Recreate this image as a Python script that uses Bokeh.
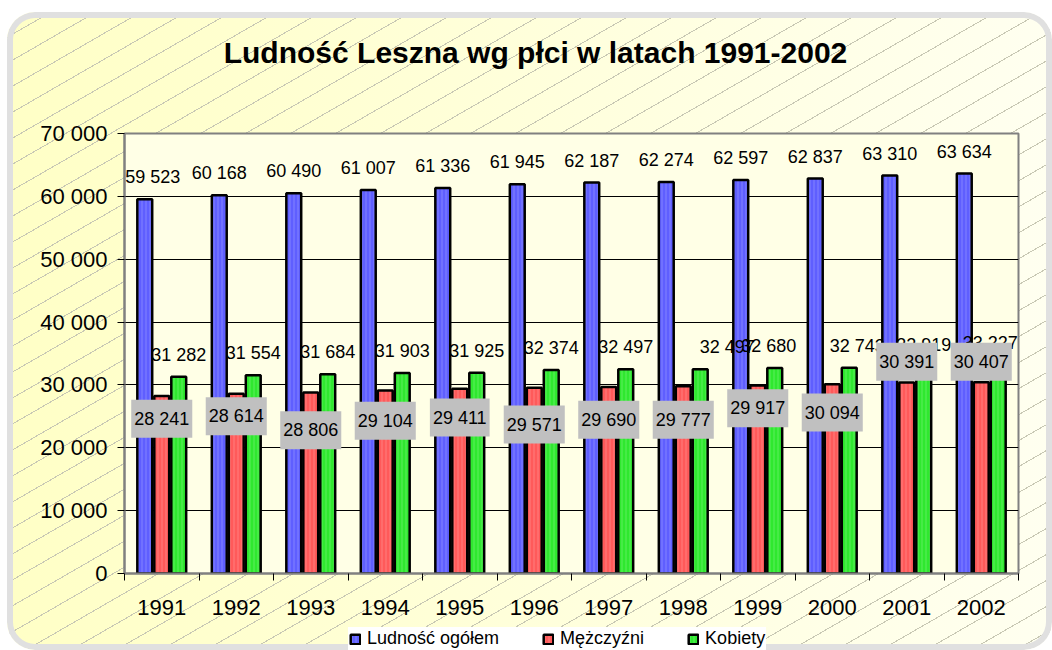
from bokeh.plotting import figure
from bokeh.layouts import column
from bokeh.models import ColumnDataSource, FixedTicker, Legend, LegendItem, Label
from bokeh.core.properties import value
from bokeh.transform import dodge
from bokeh.embed import file_html
from bokeh.resources import INLINE

# ---- data -------------------------------------------------------------
years = [1991, 1992, 1993, 1994, 1995, 1996, 1997, 1998, 1999, 2000, 2001, 2002]
total = [59523, 60168, 60490, 61007, 61336, 61945, 62187, 62274, 62597, 62837, 63310, 63634]
men = [28241, 28614, 28806, 29104, 29411, 29571, 29690, 29777, 29917, 30094, 30391, 30407]
women = [31282, 31554, 31684, 31903, 31925, 32374, 32497, 32497, 32680, 32743, 32919, 33227]
y_ticks = [0, 10000, 20000, 30000, 40000, 50000, 60000, 70000]
series_names = ["Ludność ogółem", "Mężczyźni", "Kobiety"]
series_colors = ["#5f5fff", "#ff5a5a", "#2fe82f"]
title_text = "Ludność Leszna wg płci w latach 1991-2002"

# label placement (as moved by hand in the original chart)
men_label_y = [24600, 25000, 22800, 24300, 24800, 23700, 24450, 24450, 26300, 25600, 33700, 33700]
total_label_dx = [8, 0, 0, 0, 0, 0, 0, 0, 0, 0, 0, 0]
women_label_dx = [0, 0, 0, 0, 0, 0, 0, 27, -6, 8, 0, -8]

FONT = "Liberation Sans"


def fmt(v):
    return f"{v:,}".replace(",", " ")


src = ColumnDataSource(dict(
    year=years, total=total, men=men, women=women,
    total_txt=[fmt(v) for v in total],
    men_txt=[fmt(v) for v in men],
    women_txt=[fmt(v) for v in women],
    men_label_y=men_label_y,
    total_dx=total_label_dx,
    women_dx=women_label_dx,
))

W, H_TITLE, H_MAIN, H_LEG = 1045, 75, 535, 28


def strip(height):
    f = figure(width=W, height=height, x_range=(0, 1), y_range=(0, 1),
               output_backend="svg", toolbar_location=None, title=None,
               x_axis_location=None, y_axis_location=None,
               min_border=0, min_border_left=0, min_border_right=0,
               min_border_top=0, min_border_bottom=0)
    f.border_fill_alpha = 0
    f.background_fill_alpha = 0
    f.outline_line_color = None
    f.grid.visible = False
    return f


# ---- title strip --------------------------------------------------------
pt = strip(H_TITLE)
pt.add_layout(Label(x=411, y=35, x_units="screen", y_units="screen", text=title_text,
                    text_font=FONT, text_font_size="30px", text_font_style="bold",
                    text_color="black", text_align="center", text_baseline="middle"))

# ---- main chart ---------------------------------------------------------
p = figure(width=W, height=H_MAIN, x_range=(1990.5, 2002.5), y_range=(0, 70000),
           output_backend="svg", toolbar_location=None, title=None,
           min_border_left=117, min_border_right=34, min_border_top=46, min_border_bottom=49)

p.border_fill_alpha = 0
p.background_fill_color = "#ffffe6"
p.outline_line_color = "#808080"
p.outline_line_width = 2

p.yaxis.ticker = FixedTicker(ticks=y_ticks)
p.yaxis.major_label_overrides = {t: fmt(t) for t in y_ticks}
p.yaxis.major_label_text_font = FONT
p.yaxis.major_label_text_font_size = "22px"
p.yaxis.major_label_text_color = "black"
p.yaxis.major_tick_out = 7
p.yaxis.major_tick_in = 0
p.yaxis.major_tick_line_color = "black"
p.yaxis.minor_tick_line_color = None
p.yaxis.axis_line_color = "#808080"
p.yaxis.axis_line_width = 2
p.yaxis.major_label_standoff = 10

bounds = [years[0] - 0.5] + [y + 0.5 for y in years]
p.xaxis.ticker = FixedTicker(ticks=years, minor_ticks=bounds)
p.xaxis.major_label_overrides = {y: str(y) for y in years}
p.xaxis.major_label_text_font = FONT
p.xaxis.major_label_text_font_size = "22px"
p.xaxis.major_label_text_color = "black"
p.xaxis.major_tick_out = 0
p.xaxis.major_tick_in = 0
p.xaxis.minor_tick_out = 7
p.xaxis.minor_tick_in = 0
p.xaxis.minor_tick_line_color = "black"
p.xaxis.axis_line_color = "#808080"
p.xaxis.axis_line_width = 2
p.xaxis.major_label_standoff = 19

p.xgrid.visible = False
p.ygrid.ticker = FixedTicker(ticks=y_ticks)
p.ygrid.grid_line_color = "black"
p.ygrid.grid_line_width = 1

step = 0.228
bw = 0.2
bar_style = dict(line_color="black", line_width=2.5, hatch_pattern="|", hatch_color="white",
                 hatch_alpha=0.22, hatch_scale=4, hatch_weight=1)
p.vbar(x=dodge("year", -step, range=p.x_range), top="total", width=bw, source=src,
       fill_color=series_colors[0], **bar_style)
p.vbar(x=dodge("year", 0, range=p.x_range), top="men", width=bw, source=src,
       fill_color=series_colors[1], **bar_style)
p.vbar(x=dodge("year", step, range=p.x_range), top="women", width=bw, source=src,
       fill_color=series_colors[2], **bar_style)

txt = dict(source=src, text_font=value(FONT), text_font_size="18px", text_color="black",
           text_align="center", text_baseline="middle")
p.text(x=dodge("year", -step, range=p.x_range), y="total", text="total_txt", y_offset=-22,
       x_offset="total_dx", **txt)
p.text(x=dodge("year", step, range=p.x_range), y="women", text="women_txt", y_offset=-22,
       x_offset="women_dx", **txt)
p.text(x="year", y="men_label_y", text="men_txt", background_fill_color="#c0c0c0",
       padding=dict(left=3, right=3, top=9, bottom=9), **txt)

# ---- legend strip -------------------------------------------------------
pl = strip(H_LEG)
# legend-only renderers: a tiny bar that sits under the legend's white box
leg_renderers = [pl.vbar(x=[0.5], bottom=[0.4], top=[0.6], width=0.002, fill_color=c,
                         line_color="black", line_width=2.5, hatch_pattern="|", hatch_color="white",
                         hatch_alpha=0.22, hatch_scale=4, hatch_weight=1)
                 for c in series_colors]
legend = Legend(items=[LegendItem(label=n, renderers=[r]) for n, r in zip(series_names, leg_renderers)],
                orientation="horizontal", location=(224, 0),
                label_text_font=FONT, label_text_font_size="18px", label_text_color="black",
                glyph_width=12, glyph_height=12, label_standoff=6, spacing=43,
                padding=1, margin=0, label_height=18,
                background_fill_color="white", background_fill_alpha=1, border_line_alpha=0)
pl.add_layout(legend)

layout = column(pt, p, pl, spacing=0, margin=(12, 0, 0, 7))
layout.styles = {
    "background-color": "#ffffcc",
    "background-image": ("repeating-linear-gradient(150deg, rgba(0,0,0,0) 0px, rgba(0,0,0,0) 21.5px, "
                         "#c8c8b4 21.5px, #c8c8b4 22.5px), "
                         "linear-gradient(to right, #ffffc6, #fffff0)"),
    "border-radius": "28px",
    "box-shadow": "inset 0 0 0 6px #e0e0e0",
}

open("out.html", "w").write(file_html(layout, INLINE))
